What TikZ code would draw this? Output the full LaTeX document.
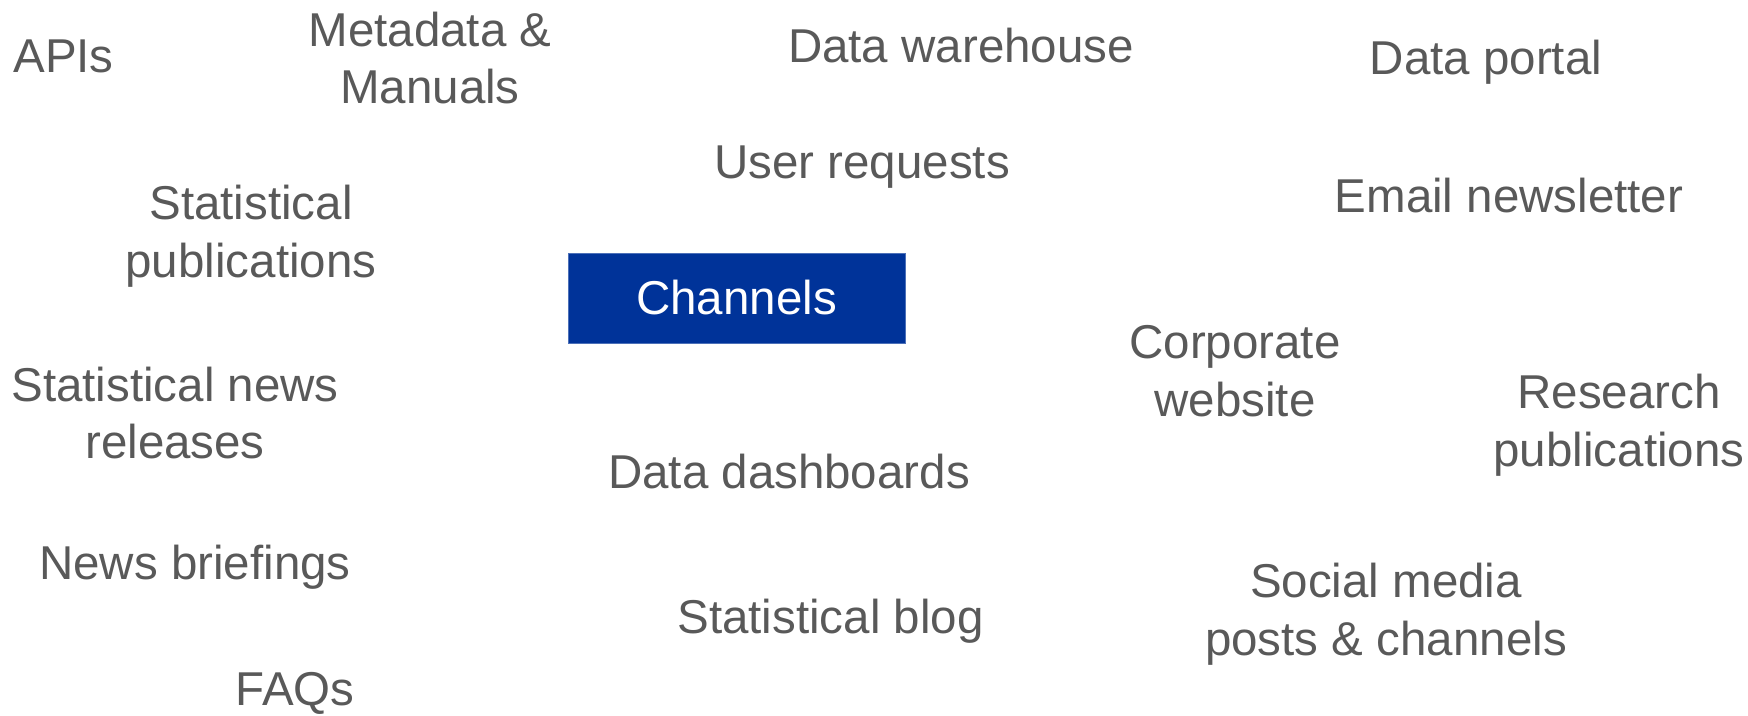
\documentclass[tikz,border=0pt]{standalone}
\usepackage{fontspec}
\setmainfont{Liberation Sans}
\definecolor{txtgray}{HTML}{595959}
\definecolor{boxblue}{HTML}{003399}
\begin{document}
\begin{tikzpicture}[x=1pt,y=-1pt,
  lbl/.style={text=txtgray,align=center,inner sep=0pt,font=\fontsize{47.5}{57.5}\selectfont},
  chan/.style={fill=boxblue,draw=boxblue!70!white,line width=1pt,text=white,inner sep=0pt,font=\fontsize{47.5}{57.5}\selectfont}]
\useasboundingbox (0,0) rectangle (1748,715);
\node[chan,minimum width=337pt,minimum height=90pt] (ch) at (736.5,298) {Channels};
\node[lbl] (api) at (63.5,56) {APIs};
\node[lbl] (meta) at (430,58) {Metadata \&\\Manuals};
\node[lbl] (dw) at (961,46) {Data warehouse};
\node[lbl] (dp) at (1486,62) {Data portal};
\node[lbl] (ur) at (862,167) {User requests};
\node[lbl] (en) at (1509,196) {Email newsletter};
\node[lbl] (sp) at (251,236) {Statistical\\publications};
\node[lbl] (cw) at (1235,371) {Corporate\\website};
\node[lbl] (snr) at (175,413) {Statistical news\\releases};
\node[lbl] (rp) at (1619,425) {Research\\publications};
\node[lbl] (dd) at (789,472) {Data dashboards};
\node[lbl] (nb) at (195,567) {News briefings};
\node[lbl] (sm) at (1386,614) {Social media\\posts \& channels};
\node[lbl] (sb) at (830.5,621) {Statistical blog};
\node[lbl,anchor=base] (faq) at (295,705) {FAQs};
\end{tikzpicture}
\end{document}
